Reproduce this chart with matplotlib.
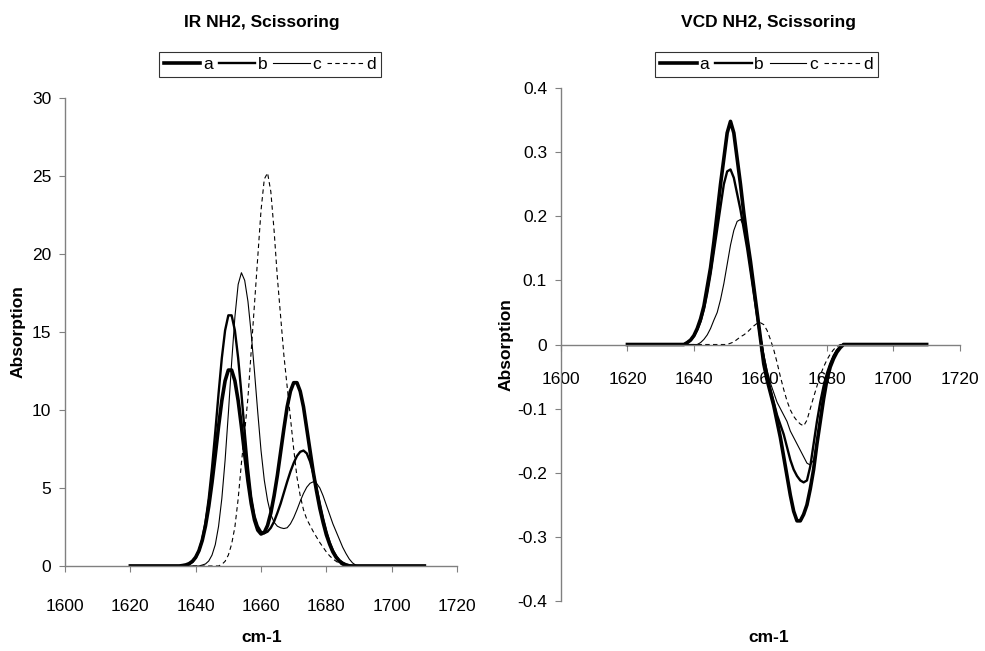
import numpy as np
import matplotlib
matplotlib.use("Agg")
import matplotlib.pyplot as plt
from matplotlib.ticker import FuncFormatter

plt.rcParams['font.family'] = ['Liberation Sans', 'DejaVu Sans']
plt.rcParams['axes.unicode_minus'] = False

# wavenumbers, 1620..1710 cm-1 in steps of 1
wavenumber = np.arange(1620, 1711)
labels = ['a', 'b', 'c', 'd']

# IR absorption, rows of 10 starting at 1620, 1630, ...
ir_a = [0, 0, 0, 0, 0, 0, 0, 0, 0, 0,
        0, 0, 0, 0, 0, 0, 0.03, 0.07, 0.15, 0.3,
        0.56, 0.98, 1.63, 2.57, 3.82, 5.36, 7.12, 8.94, 10.6, 11.87,
        12.56, 12.56, 11.87, 10.6, 8.94, 7.16, 5.44, 4.0, 2.95, 2.3,
        2.05, 2.15, 2.6, 3.4, 4.5, 5.8, 7.3, 8.8, 10.2, 11.2,
        11.75, 11.75, 11.2, 10.2, 8.8, 7.4, 6.0, 4.8, 3.7, 2.8,
        2.0, 1.4, 0.9, 0.55, 0.3, 0.15, 0.05, 0, 0, 0,
        0, 0, 0, 0, 0, 0, 0, 0, 0, 0,
        0, 0, 0, 0, 0, 0, 0, 0, 0, 0,
        0]
ir_b = [0, 0, 0, 0, 0, 0, 0, 0, 0, 0,
        0, 0, 0, 0, 0, 0, 0, 0.05, 0.12, 0.26,
        0.52, 0.97, 1.69, 2.79, 4.33, 6.3, 8.6, 11.05, 13.33, 15.1,
        16.07, 16.07, 15.1, 13.33, 11.05, 8.6, 6.3, 4.4, 3.2, 2.55,
        2.2, 2.1, 2.2, 2.45, 2.85, 3.4, 4.0, 4.7, 5.4, 6.05,
        6.6, 7.05, 7.32, 7.4, 7.22, 6.7, 5.93, 4.99, 3.99, 3.04,
        2.21, 1.52, 1.0, 0.63, 0.37, 0.21, 0.11, 0.05, 0, 0,
        0, 0, 0, 0, 0, 0, 0, 0, 0, 0,
        0, 0, 0, 0, 0, 0, 0, 0, 0, 0,
        0]
ir_c = [0, 0, 0, 0, 0, 0, 0, 0, 0, 0,
        0, 0, 0, 0, 0, 0, 0, 0, 0, 0,
        0, 0, 0.06, 0.13, 0.32, 0.7, 1.37, 2.54, 4.32, 6.77,
        9.78, 13.03, 15.96, 18.05, 18.8, 18.31, 16.96, 14.89, 12.45, 9.85,
        7.4, 5.5, 4.2, 3.3, 2.8, 2.55, 2.45, 2.4, 2.45, 2.7,
        3.1, 3.6, 4.15, 4.65, 5.05, 5.3, 5.4, 5.3, 5.0, 4.5,
        3.9, 3.3, 2.7, 2.2, 1.7, 1.2, 0.8, 0.45, 0.2, 0.05,
        0, 0, 0, 0, 0, 0, 0, 0, 0, 0,
        0, 0, 0, 0, 0, 0, 0, 0, 0, 0,
        0]
ir_d = [0, 0, 0, 0, 0, 0, 0, 0, 0, 0,
        0, 0, 0, 0, 0, 0, 0, 0, 0, 0,
        0, 0, 0, 0, 0, 0, 0, 0, 0.1, 0.3,
        0.7, 1.4, 2.5, 4.3, 6.6, 8.6, 10.8, 13.8, 16.8, 19.8,
        22.8, 24.8, 25.2, 24.0, 21.5, 18.5, 16.0, 13.5, 11.5, 9.5,
        7.5, 5.7, 4.5, 3.6, 3.0, 2.6, 2.2, 1.85, 1.5, 1.2,
        0.9, 0.65, 0.45, 0.3, 0.15, 0.05, 0, 0, 0, 0,
        0, 0, 0, 0, 0, 0, 0, 0, 0, 0,
        0, 0, 0, 0, 0, 0, 0, 0, 0, 0,
        0]

# VCD
vcd_a = [0, 0, 0, 0, 0, 0, 0, 0, 0, 0,
         0, 0, 0, 0, 0, 0, 0, 0, 0.003, 0.007,
         0.014, 0.025, 0.04, 0.06, 0.09, 0.12, 0.16, 0.205, 0.25, 0.29,
         0.33, 0.348, 0.33, 0.29, 0.25, 0.205, 0.165, 0.13, 0.09, 0.05,
         0.01, -0.03, -0.055, -0.075, -0.095, -0.12, -0.145, -0.175, -0.205, -0.235,
         -0.26, -0.275, -0.275, -0.265, -0.25, -0.225, -0.195, -0.155, -0.12, -0.085,
         -0.055, -0.035, -0.022, -0.012, -0.005, 0, 0, 0, 0, 0,
         0, 0, 0, 0, 0, 0, 0, 0, 0, 0,
         0, 0, 0, 0, 0, 0, 0, 0, 0, 0,
         0]
vcd_b = [0, 0, 0, 0, 0, 0, 0, 0, 0, 0,
         0, 0, 0, 0, 0, 0, 0, 0, 0.003, 0.007,
         0.013, 0.023, 0.036, 0.055, 0.08, 0.11, 0.145, 0.18, 0.215, 0.25,
         0.27, 0.273, 0.26, 0.235, 0.21, 0.18, 0.15, 0.115, 0.08, 0.045,
         0.01, -0.02, -0.045, -0.07, -0.09, -0.11, -0.125, -0.14, -0.16, -0.18,
         -0.195, -0.205, -0.212, -0.215, -0.212, -0.19, -0.155, -0.12, -0.09, -0.065,
         -0.045, -0.03, -0.018, -0.009, -0.003, 0, 0, 0, 0, 0,
         0, 0, 0, 0, 0, 0, 0, 0, 0, 0,
         0, 0, 0, 0, 0, 0, 0, 0, 0, 0,
         0]
vcd_c = [0, 0, 0, 0, 0, 0, 0, 0, 0, 0,
         0, 0, 0, 0, 0, 0, 0, 0, 0, 0,
         0, 0, 0.003, 0.008, 0.015, 0.025, 0.038, 0.05, 0.07, 0.095,
         0.125, 0.155, 0.178, 0.192, 0.195, 0.185, 0.16, 0.125, 0.09, 0.05,
         0.015, -0.015, -0.04, -0.06, -0.075, -0.09, -0.1, -0.11, -0.12, -0.135,
         -0.145, -0.155, -0.165, -0.175, -0.185, -0.188, -0.18, -0.15, -0.11, -0.075,
         -0.05, -0.03, -0.017, -0.008, -0.003, 0, 0, 0, 0, 0,
         0, 0, 0, 0, 0, 0, 0, 0, 0, 0,
         0, 0, 0, 0, 0, 0, 0, 0, 0, 0,
         0]
vcd_d = [0, 0, 0, 0, 0, 0, 0, 0, 0, 0,
         0, 0, 0, 0, 0, 0, 0, 0, 0, 0,
         0, 0, 0, 0, 0, 0, 0, 0, 0, 0,
         0, 0.002, 0.004, 0.008, 0.012, 0.015, 0.019, 0.024, 0.029, 0.033,
         0.034, 0.031, 0.022, 0.008, -0.008, -0.028, -0.05, -0.07, -0.088, -0.102,
         -0.112, -0.119, -0.124, -0.127, -0.118, -0.1, -0.082, -0.065, -0.048, -0.035,
         -0.024, -0.015, -0.008, -0.003, 0, 0, 0, 0, 0, 0,
         0, 0, 0, 0, 0, 0, 0, 0, 0, 0,
         0, 0, 0, 0, 0, 0, 0, 0, 0, 0,
         0]

styles = [dict(lw=2.6, ls='-'), dict(lw=1.7, ls='-'), dict(lw=0.8, ls='-'),
          dict(lw=0.8, ls=(0, (4, 3)))]
spine_col = '#808080'
fs = 12.5


def excel_fmt(v, pos):
    v = round(v, 1)
    if abs(v) < 1e-9:
        return '0'
    return f"{v:g}"


fig = plt.figure(figsize=(9.85, 6.51), dpi=100)
ax1 = fig.add_axes([0.066, 0.1306, 0.398, 0.7188])
ax2 = fig.add_axes([0.5695, 0.0768, 0.405, 0.788])

for ax, series in [(ax1, [ir_a, ir_b, ir_c, ir_d]), (ax2, [vcd_a, vcd_b, vcd_c, vcd_d])]:
    for vals, lab, st in zip(series, labels, styles):
        ax.plot(wavenumber, vals, color='black', label=lab, **st)
    ax.set_xlim(1600, 1720)
    ax.set_xticks(np.arange(1600, 1721, 20))
    ax.spines['top'].set_visible(False)
    ax.spines['right'].set_visible(False)
    for s in ['left', 'bottom']:
        ax.spines[s].set_color(spine_col)
        ax.spines[s].set_linewidth(1.0)
    ax.tick_params(colors=spine_col, labelcolor='black', labelsize=fs,
                   direction='out', length=4)
    ax.set_ylabel('Absorption', fontsize=fs, fontweight='bold')

ax1.set_ylim(0, 30)
ax1.set_yticks(np.arange(0, 31, 5))
ax1.tick_params(axis='x', pad=20)
ax1.tick_params(axis='y', pad=6)
ax1.yaxis.set_label_coords(-0.1, 0.5)

ax2.set_ylim(-0.4, 0.4)
ax2.set_yticks(np.arange(-0.4, 0.41, 0.1))
ax2.yaxis.set_major_formatter(FuncFormatter(excel_fmt))
ax2.spines['bottom'].set_position(('data', 0))
ax2.tick_params(axis='x', pad=16)
ax2.tick_params(axis='y', pad=6)
ax2.yaxis.set_label_coords(-0.12, 0.5)

fig.text(0.266, 0.965, 'IR NH2, Scissoring', ha='center', va='center',
         fontsize=fs, fontweight='bold')
fig.text(0.78, 0.965, 'VCD NH2, Scissoring', ha='center', va='center',
         fontsize=fs, fontweight='bold')
fig.text(0.266, 0.02, 'cm-1', ha='center', va='center', fontsize=fs, fontweight='bold')
fig.text(0.78, 0.02, 'cm-1', ha='center', va='center', fontsize=fs, fontweight='bold')

for ax, cx in [(ax1, 0.274), (ax2, 0.778)]:
    leg = ax.legend(ncol=4, loc='center', bbox_to_anchor=(cx, 0.901),
                    bbox_transform=fig.transFigure, fontsize=fs, frameon=True,
                    fancybox=False, handlelength=2.1, handletextpad=0.15,
                    columnspacing=0.35, borderpad=0.3, borderaxespad=0)
    leg.get_frame().set_edgecolor('black')
    leg.get_frame().set_linewidth(0.8)

fig.savefig('out.png', dpi=100)
